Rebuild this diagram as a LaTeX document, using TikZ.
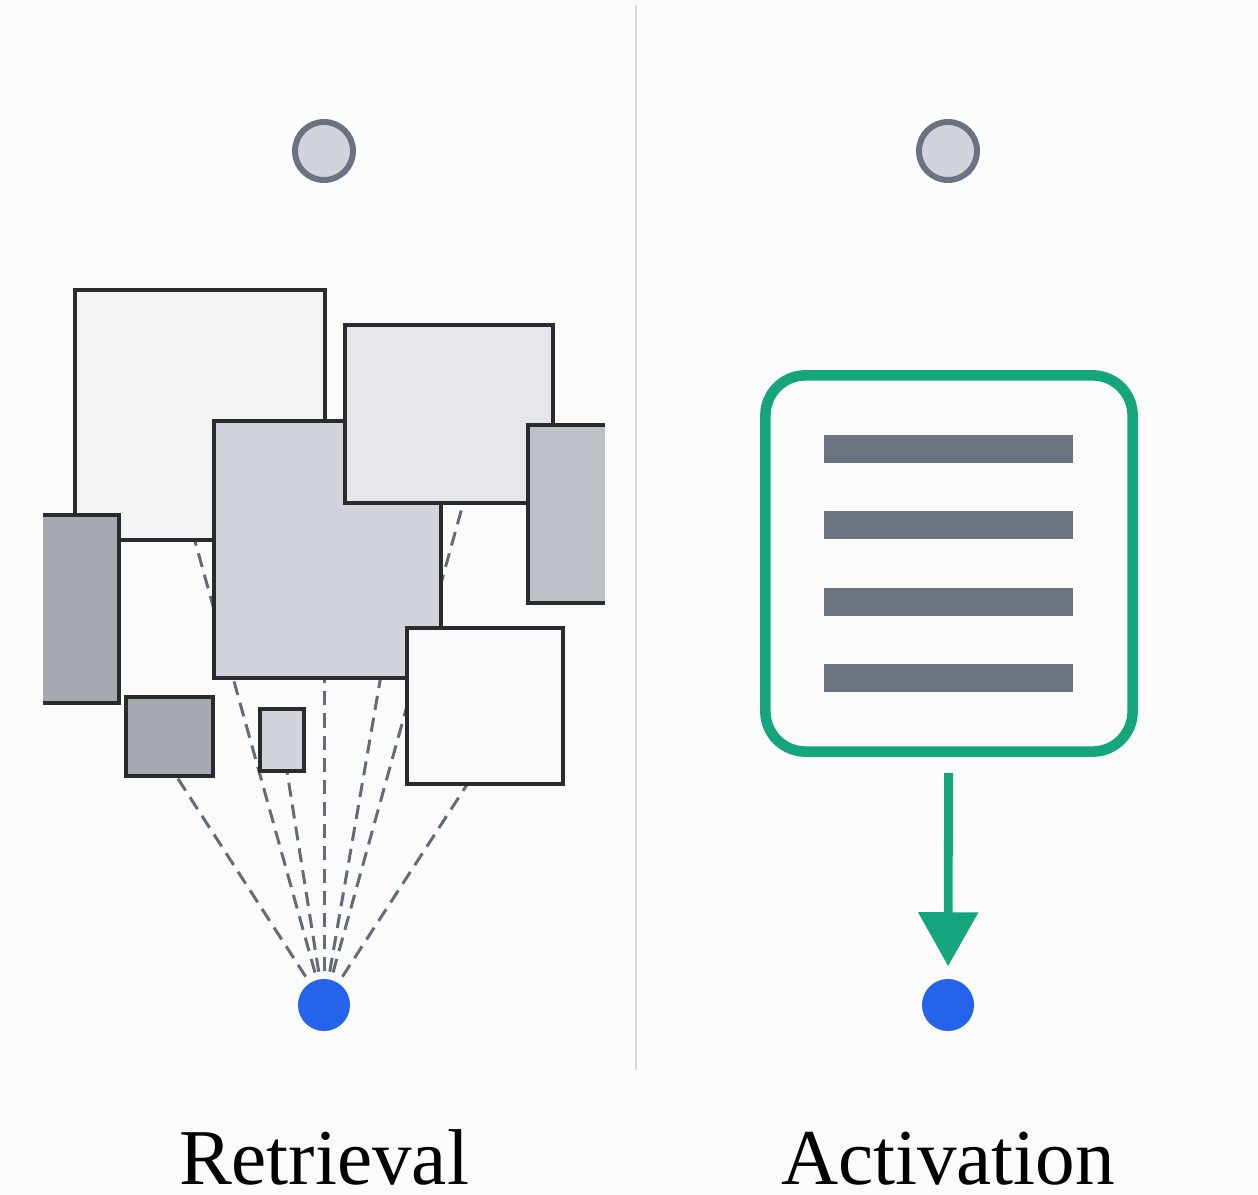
\documentclass[tikz,border=0pt]{standalone}
\usepackage{fontspec}
\setmainfont{Liberation Serif}
\usetikzlibrary{arrows.meta}
\definecolor{bgwhite}{HTML}{FBFBFB}
\definecolor{edgegray}{HTML}{2B2B2B}
\definecolor{dashgray}{HTML}{646B77}
\definecolor{ringgray}{HTML}{6B7280}
\definecolor{ringfill}{HTML}{D1D5DB}
\definecolor{dotblue}{HTML}{2563EB}
\definecolor{cardgreen}{HTML}{14A57C}
\definecolor{barslate}{HTML}{6B7280}
\definecolor{shadeA}{HTML}{F3F4F6}
\definecolor{shadeB}{HTML}{E5E7EB}
\definecolor{shadeC}{HTML}{D1D5DB}
\definecolor{shadeD}{HTML}{BCC0C7}
\definecolor{shadeE}{HTML}{A5A9B0}
\definecolor{shadeF}{HTML}{F9FAFB}
\tikzset{
  page/.style={fill=bgwhite,draw=none},
  memo/.style={draw=edgegray,line width=1pt},
  probe/.style={dashgray,line width=0.85pt,dash pattern=on 4pt off 2.3pt},
  query/.style={circle,fill=ringfill,draw=ringgray,line width=1.7pt,minimum size=0.58cm,inner sep=0pt},
  target/.style={circle,fill=dotblue,minimum size=0.52cm,inner sep=0pt},
  card/.style={draw=cardgreen,line width=3pt,rounded corners=0.4cm,minimum width=3.67cm,minimum height=3.76cm},
  caption/.style={anchor=base,inner sep=0pt,font=\fontsize{22.5}{26}\selectfont}
}
\begin{document}
\begin{tikzpicture}[x=0.01cm,y=-0.01cm]
            \fill [page] (0,0) rectangle (1258,1195);
            \useasboundingbox (0,0) rectangle (1258,1195);
            \draw [line width=0.6pt,color=black!15] (636,5)--(636,1070);
            % retrieval side
            \node [query] (qL) at(324,151) {};
            \node [target] (dotL) at(324,1005) {};
            \coordinate (hitA) at(178,480);
            \coordinate (hitB) at(478,450);
            \coordinate (hitG) at(153,740);
            \coordinate (hitH) at(282,740);
            \coordinate (hitM) at(324,600);
            \coordinate (hitC) at(394,600);
            \coordinate (hitF) at(496,740);
            \foreach \t in {hitA,hitB,hitG,hitH,hitM,hitC,hitF}
                \draw [probe,shorten <=2pt] (dotL)--(\t);
            \filldraw [memo,fill=shadeA] (75,290) rectangle (325,540);
            \filldraw [memo,fill=shadeC] (214,421) rectangle (441,678);
            \filldraw [memo,fill=shadeB] (345,325) rectangle (553,503);
            \fill [shadeD] (528,425) rectangle (605,603);
            \draw [memo] (605,425)--(528,425)--(528,603)--(605,603);
            \fill [shadeE] (43,515) rectangle (119,703);
            \draw [memo] (43,515)--(119,515)--(119,703)--(43,703);
            \filldraw [memo,fill=shadeF] (407,628) rectangle (563,784);
            \filldraw [memo,fill=shadeE] (126,697) rectangle (213,776);
            \filldraw [memo,fill=shadeC] (260,709) rectangle (304,771);
            \node [caption] (capL) at(324,1184) {Retrieval};
            % activation side
            \node [query] (qR) at(948,151) {};
            \node [card] (memo) at(949,563.5) {};
            \foreach \y in {449,525,602,678}
                \fill [barslate] (824,\y-14) rectangle (1073,\y+14);
            \node [target] (dotR) at(948,1005) {};
            \draw [cardgreen,line width=2.5pt,shorten <=0.16cm,shorten >=0.12cm,-{Triangle[width=0.58cm,length=0.54cm]}] (memo)--(dotR);
            \node [caption] (capR) at(948,1184) {Activation};
        \end{tikzpicture}
\end{document}
